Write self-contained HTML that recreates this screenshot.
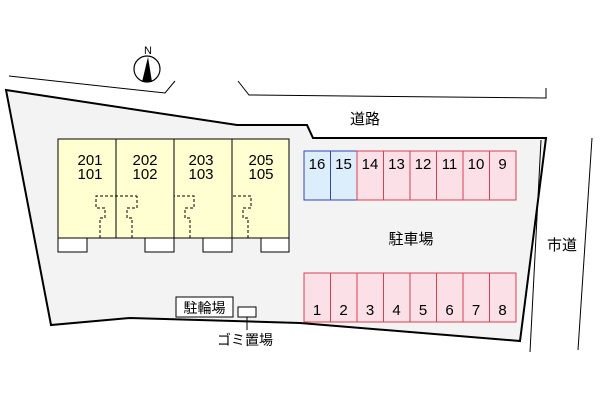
<!DOCTYPE html>
<html><head><meta charset="utf-8"><style>
body{margin:0;background:#fff}
svg text{font-family:"Liberation Sans","Noto Sans CJK JP",sans-serif}
</style></head><body>
<svg width="600" height="400" viewBox="0 0 600 400" xmlns="http://www.w3.org/2000/svg">
<polygon points="6,90 237,125 307,125 313,138 546,138 520,341 300,323 130,318 51,325" fill="#f3f3f3" stroke="#000" stroke-width="2"/>
<polyline points="9,76 165,93 175,81" fill="none" stroke="#000" stroke-width="1"/>
<polyline points="238,81 249,95 546,98 546,88" fill="none" stroke="#000" stroke-width="1"/>
<line x1="541" y1="140" x2="530" y2="352" stroke="#000" stroke-width="1"/>
<line x1="592" y1="138" x2="578" y2="350" stroke="#000" stroke-width="1"/>
<circle cx="147" cy="69" r="13" fill="#fff" stroke="#000" stroke-width="1.2"/>
<polygon points="148,57 142,82 152,82" fill="#000"/>
<text x="148" y="54" font-size="11" text-anchor="middle">N</text>
<rect x="58" y="139" width="231" height="99" fill="#ffffd2" stroke="#000"/>
<line x1="116" y1="139" x2="116" y2="238" stroke="#000"/>
<line x1="174" y1="139" x2="174" y2="238" stroke="#000"/>
<line x1="232" y1="139" x2="232" y2="238" stroke="#000"/>
<g fill="#fff" stroke="#000"><rect x="58" y="238" width="29" height="14"/><rect x="145" y="238" width="29" height="14"/><rect x="203" y="238" width="29" height="14"/><rect x="261" y="238" width="28" height="14"/></g>
<g fill="none" stroke="#000" stroke-dasharray="3,2">
<path d="M100,238 V218 H105 V208 H96 V196 H137"/>
<path d="M132,238 V218 H127 V208 H137 V196"/>
<path d="M190,238 V218 H185 V208 H194 V196 H174"/>
<path d="M248,238 V218 H243 V208 H251 V196 H232"/>
</g>
<g font-size="15" text-anchor="middle">
<text x="90" y="165">201</text><text x="90" y="179">101</text>
<text x="145" y="165">202</text><text x="145" y="179">102</text>
<text x="201" y="165">203</text><text x="201" y="179">103</text>
<text x="261" y="165">205</text><text x="261" y="179">105</text>
</g>
<g stroke-width="1">
<rect x="304" y="151" width="26.5" height="49" fill="#dcedfb" stroke="#3344aa"/>
<rect x="330.5" y="151" width="26.5" height="49" fill="#dcedfb" stroke="#3344aa"/>
<g fill="#fbe0e8" stroke="#d84050">
<rect x="357" y="151" width="26.5" height="49"/><rect x="383.5" y="151" width="26.5" height="49"/><rect x="410" y="151" width="26.5" height="49"/><rect x="436.5" y="151" width="26.5" height="49"/><rect x="463" y="151" width="26.5" height="49"/><rect x="489.5" y="151" width="26.5" height="49"/>
<rect x="304" y="273" width="26.5" height="49"/><rect x="330.5" y="273" width="26.5" height="49"/><rect x="357" y="273" width="26.5" height="49"/><rect x="383.5" y="273" width="26.5" height="49"/><rect x="410" y="273" width="26.5" height="49"/><rect x="436.5" y="273" width="26.5" height="49"/><rect x="463" y="273" width="26.5" height="49"/><rect x="489.5" y="273" width="26.5" height="49"/>
</g></g>
<g font-size="15" text-anchor="middle">
<text x="317" y="169">16</text><text x="343.5" y="169">15</text><text x="370" y="169">14</text><text x="396.5" y="169">13</text><text x="423" y="169">12</text><text x="449.5" y="169">11</text><text x="476" y="169">10</text><text x="502.5" y="169">9</text>
<text x="317" y="315">1</text><text x="343.5" y="315">2</text><text x="370" y="315">3</text><text x="396.5" y="315">4</text><text x="423" y="315">5</text><text x="449.5" y="315">6</text><text x="476" y="315">7</text><text x="502.5" y="315">8</text>
</g>
<text x="365" y="124" font-size="15" text-anchor="middle">道路</text>
<text x="411" y="244" font-size="15" text-anchor="middle">駐車場</text>
<text x="562" y="250" font-size="15" text-anchor="middle">市道</text>
<rect x="176" y="297" width="57" height="20" fill="#fff" stroke="#000"/>
<text x="204.5" y="313" font-size="14" text-anchor="middle">駐輪場</text>
<rect x="238" y="307" width="18" height="10" fill="#fff" stroke="#000"/>
<line x1="247" y1="317" x2="247" y2="330" stroke="#000"/>
<text x="245" y="345" font-size="14" text-anchor="middle">ゴミ置場</text>
</svg>
</body></html>
